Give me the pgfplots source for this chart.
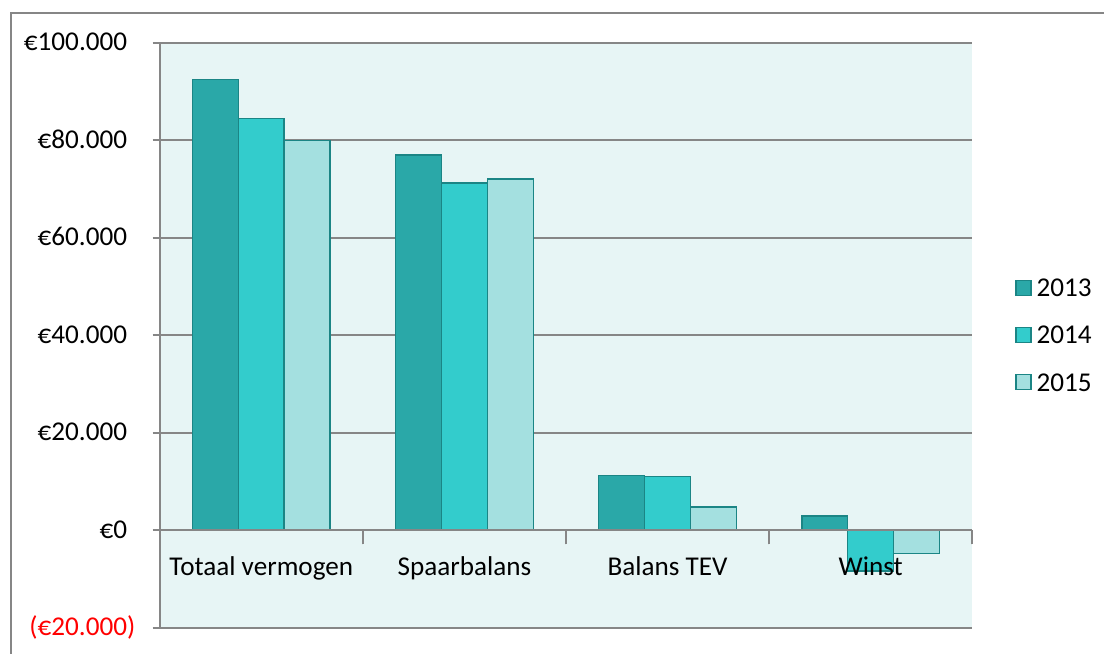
\documentclass[border=0pt]{standalone}
\usepackage{pgfplots}
\pgfplotsset{compat=1.18}
\usepackage{fontspec}
\setmainfont{Carlito}
\definecolor{cA}{HTML}{2AA8A8}
\definecolor{cB}{HTML}{33CCCC}
\definecolor{cC}{HTML}{A4E0E0}
\definecolor{edge}{HTML}{1B8585}
\definecolor{bgc}{HTML}{E7F5F5}
\definecolor{gridc}{HTML}{868686}
\newcommand{\fs}{\fontsize{13.6}{16}\selectfont}
\pgfplotsset{
  frame/.style={at={(0pt,0pt)}, anchor=south west,
    scale only axis, width=407pt, height=293pt,
    xmin=-0.5, xmax=3.5, ymin=-20000, ymax=100000},
  xaxisstyle/.style={
    axis x line=middle,
    hide obscured x ticks=false, hide obscured y ticks=false,
    minor xtick={0.5,1.5,2.5,3.5},
    major x tick style={draw=none},
    minor x tick style={gridc, line width=1pt},
    minor tick length=7pt,
    xtick align=outside}
}
\begin{document}
\begin{tikzpicture}
\begin{axis}[
  frame, xaxisstyle,
  axis y line=left,
  axis line style={-, gridc, line width=1pt},
  x axis line style={-}, y axis line style={-},
  axis background/.style={fill=bgc},
  scaled y ticks=false,
  ybar=0pt, bar width=23pt,
  xtick={0,1,2,3}, xticklabels={},
  ytick={-20000,0,20000,40000,60000,80000,100000},
  yticklabels={\textcolor{red}{(€20.000)}, €0\phantom{)}, €20.000\phantom{)}, €40.000\phantom{)}, €60.000\phantom{)}, €80.000\phantom{)}, €100.000\phantom{)}},
  yticklabel style={font=\fs, anchor=east, inner sep=0pt, xshift=-8.5pt},
  ytick align=outside,
  major tick length=3.5pt,
  y tick style={gridc, line width=1pt},
  ymajorgrids, major grid style={gridc, line width=1pt},
  legend style={draw=none, fill=none, at={(1.0528,0.5)}, anchor=west, inner sep=0pt, outer sep=0pt,
    font=\fs, row sep=15pt, nodes={inner sep=0pt, text height=8.5pt, text depth=0pt},
    /tikz/every odd column/.append style={column sep=2.5pt}},
  legend cell align=left,
  legend image code/.code={\draw[#1, line width=0.75pt] (0pt,-3.55pt) rectangle (7.5pt,3.95pt);},
]
\addplot[fill=cA, draw=edge, line width=0.75pt] coordinates {(0,92500) (1,77000) (2,11300) (3,2900)};
\addplot[fill=cB, draw=edge, line width=0.75pt] coordinates {(0,84500) (1,71300) (2,11100) (3,-8300)};
\addplot[fill=cC, draw=edge, line width=0.75pt] coordinates {(0,80000) (1,72100) (2,4800) (3,-4700)};
\legend{2013,2014,2015}
\end{axis}
\begin{axis}[
  frame, xaxisstyle,
  axis y line=none, ytick=\empty,
  axis line style={-, gridc, line width=1pt},
  x axis line style={-},
  xtick={0,1,2,3},
  xticklabels={Totaal vermogen, Spaarbalans, Balans TEV, Winst},
  xticklabel style={font=\fs, anchor=center, yshift=-15pt, text height=8.5pt, text depth=2pt, inner sep=0pt},
]
\end{axis}
\draw[gridc, line width=1pt] (-74.5pt,-13pt) -- (-74.5pt,308pt) -- (473pt,308pt);
\useasboundingbox (-80pt,-12pt) rectangle (472.5pt,314.5pt);
\end{tikzpicture}
\end{document}
